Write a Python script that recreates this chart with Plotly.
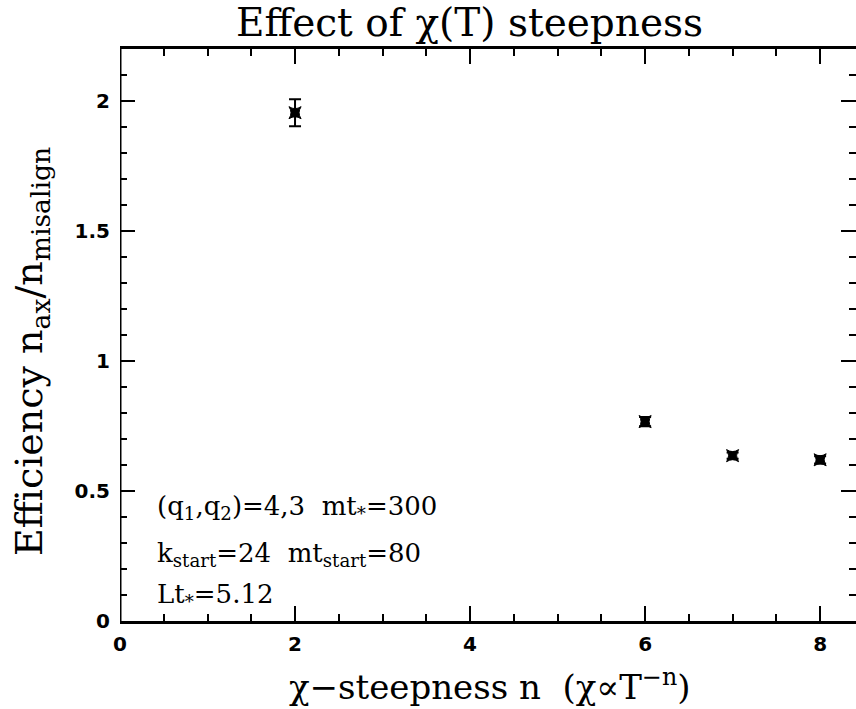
import plotly.graph_objects as go

# chi(T) steepness exponent n and resulting efficiency
steepness_n = [2, 6, 7, 8]
efficiency = [1.955, 0.767, 0.636, 0.620]
efficiency_err = [0.052, 0.018, 0.012, 0.014]

x_ticks = [0, 2, 4, 6, 8]
y_ticks = [0, 0.5, 1, 1.5, 2]
y_tick_text = ["0", "0.5", "1", "1.5", "2"]

info_lines = [
    "(q<sub>1</sub>,q<sub>2</sub>)=4,3  mt<sub>*</sub>=300",
    "k<sub>start</sub>=24  mt<sub>start</sub>=80",
    "Lt<sub>*</sub>=5.12",
]
info_y = [0.435, 0.254, 0.10]

SERIF = "DejaVu Serif, Liberation Serif, serif"

fig = go.Figure()
fig.add_trace(go.Scatter(
    x=steepness_n, y=efficiency, mode="markers",
    marker=dict(symbol="star-square", size=11, color="black",
                line=dict(color="black", width=1)),
    error_y=dict(type="data", array=efficiency_err, visible=True,
                 color="black", thickness=2, width=6),
    showlegend=False,
))

tick_font = dict(family="DejaVu Sans", size=20, color="black", weight="bold")

fig.update_xaxes(
    range=[0, 8.41], tickvals=x_ticks, ticktext=[str(v) for v in x_ticks],
    ticks="inside", ticklen=15, tickwidth=2, tickcolor="black",
    minor=dict(dtick=0.5, ticks="inside", ticklen=7, tickwidth=2, tickcolor="black"),
    showline=True, linewidth=3, linecolor="black", mirror="ticks",
    showgrid=False, zeroline=False, tickfont=tick_font, ticklabelstandoff=3,
)
fig.update_yaxes(
    range=[0, 2.2], tickvals=y_ticks, ticktext=y_tick_text,
    ticks="inside", ticklen=15, tickwidth=2, tickcolor="black",
    minor=dict(dtick=0.1, ticks="inside", ticklen=7, tickwidth=2, tickcolor="black"),
    showline=False, mirror="ticks",
    showgrid=False, zeroline=False, tickfont=tick_font, ticklabelstandoff=9,
)

# left axis line
fig.add_shape(type="line", xref="x", yref="paper", x0=0, x1=0, y0=0, y1=1,
              line=dict(color="black", width=3))

annotations = [
    dict(text="Effect of χ(T) steepness", xref="paper", yref="paper",
         x=(469 - 120) / 736, y=1.0, yshift=27, showarrow=False,
         font=dict(family=SERIF, size=39, color="black"),
         xanchor="center", yanchor="middle"),
    dict(text="χ−steepness n  (χ∝T<sup>−n</sup>)", xref="paper", yref="paper",
         x=(490 - 120) / 736, y=0, yshift=-64, showarrow=False,
         font=dict(family=SERIF, size=34, color="black"),
         xanchor="center", yanchor="middle"),
    dict(text="Efficiency n<sub>ax</sub>/n<sub>misalign</sub>", xref="paper", yref="paper",
         x=0, xshift=-89, y=(621 - 352) / 572, showarrow=False, textangle=-90,
         font=dict(family=SERIF, size=38, color="black"),
         xanchor="center", yanchor="middle"),
]
for line, yv in zip(info_lines, info_y):
    annotations.append(dict(
        text=line, x=0.4, y=yv, xref="x", yref="y", showarrow=False,
        xanchor="left", yanchor="middle",
        font=dict(family=SERIF, size=26, color="black"),
    ))

fig.update_layout(
    width=856, height=709,
    margin=dict(l=120, r=0, t=49, b=88),
    plot_bgcolor="white", paper_bgcolor="white",
    annotations=annotations,
)

fig.write_html("out.html")
